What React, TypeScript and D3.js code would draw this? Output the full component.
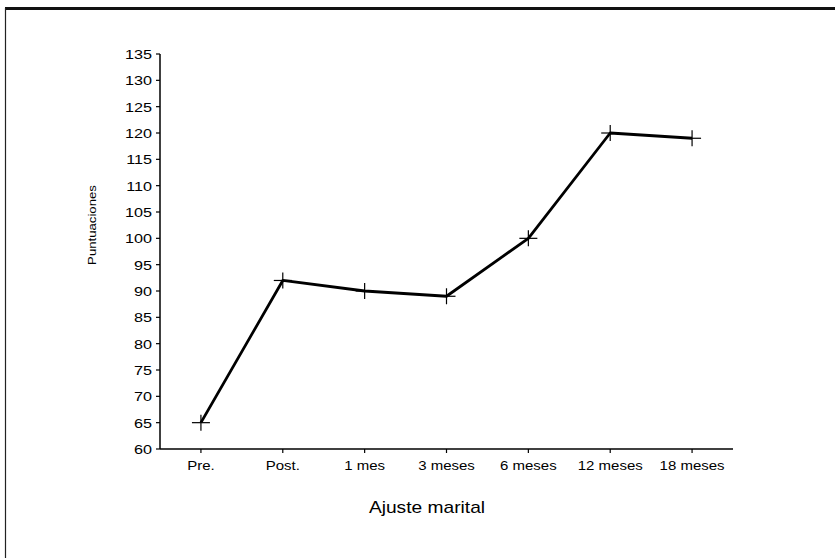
import React from "react";
import * as d3 from "d3";

const categories = ["Pre.", "Post.", "1 mes", "3 meses", "6 meses", "12 meses", "18 meses"];
const values = [65, 92, 90, 89, 100, 120, 119];
const yTicks = [60, 65, 70, 75, 80, 85, 90, 95, 100, 105, 110, 115, 120, 125, 130, 135];
const yLabel = "Puntuaciones";
const xTitle = "Ajuste marital";

const W = 835;
const H = 558;
const FONT = "'Liberation Sans', Arial, sans-serif";
const SX = 1.2;

export default function App() {
  const x = d3.scaleBand<string>().domain(categories).range([160, 733]);
  const y = d3.scaleLinear().domain([60, 135]).range([449, 54]);
  const cx = (c: string) => (x(c) as number) + x.bandwidth() / 2;
  const line = d3
    .line<number>()
    .x((_, i) => cx(categories[i]))
    .y((d) => y(d));

  return (
    <svg
      width={W}
      height={H}
      style={{ position: "absolute", left: 0, top: 0, background: "#fff" }}
      fontFamily={FONT}
    >
      <rect x={0} y={0} width={W} height={H} fill="#fff" />
      {/* frame */}
      <line x1={5} y1={8.5} x2={W} y2={8.5} stroke="#111" strokeWidth={3} />
      <line x1={5.5} y1={8} x2={5.5} y2={H} stroke="#222" strokeWidth={1.2} />

      {/* y axis */}
      <line x1={160} y1={y(135)} x2={160} y2={y(60)} stroke="#000" strokeWidth={1.5} />
      {yTicks.map((t) => (
        <g key={t}>
          <line x1={156} x2={160} y1={y(t)} y2={y(t)} stroke="#000" strokeWidth={1.2} />
          <g transform={`translate(152,${y(t) + 5}) scale(${SX},1)`}>
            <text textAnchor="end" fontSize={13.5} fill="#000">
              {t}
            </text>
          </g>
        </g>
      ))}

      {/* x axis */}
      <line x1={160} y1={449} x2={733} y2={449} stroke="#000" strokeWidth={1.5} />
      {categories.map((c) => (
        <g key={c}>
          <line x1={cx(c)} x2={cx(c)} y1={449} y2={453} stroke="#000" strokeWidth={1.2} />
          <g transform={`translate(${cx(c)},470) scale(${SX},1)`}>
            <text textAnchor="middle" fontSize={12.5} fill="#000">
              {c}
            </text>
          </g>
        </g>
      ))}

      {/* y label */}
      <g transform={`translate(96,225) rotate(-90) scale(${SX},1)`}>
        <text textAnchor="middle" fontSize={11} fill="#000">
          {yLabel}
        </text>
      </g>

      {/* x title */}
      <g transform={`translate(427,513) scale(${SX},1)`}>
        <text textAnchor="middle" fontSize={16} fill="#000">
          {xTitle}
        </text>
      </g>

      {/* series */}
      <path d={line(values) || ""} fill="none" stroke="#000" strokeWidth={2.8} strokeLinejoin="round" />
      {values.map((v, i) => {
        const px = cx(categories[i]);
        const py = y(v);
        return (
          <g key={i} stroke="#000" strokeWidth={1.2}>
            <line x1={px - 9} x2={px + 9} y1={py} y2={py} />
            <line x1={px} x2={px} y1={py - 8} y2={py + 8} />
          </g>
        );
      })}
    </svg>
  );
}
